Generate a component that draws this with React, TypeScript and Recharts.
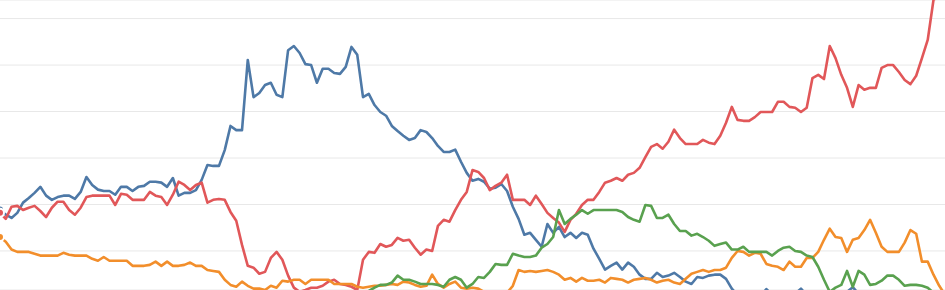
import React from "react";
import { CartesianGrid, Line, LineChart, XAxis, YAxis } from "recharts";

// values, one per period
const blue = [
  18.9, 17.8, 17.1, 18.2, 20.4, 21.4, 22.5, 23.8, 21.9, 21.0,
  21.6, 21.9, 21.9, 21.2, 22.7, 25.9, 24.2, 23.2, 22.9, 22.9,
  22.1, 23.8, 23.8, 22.9, 23.8, 24.0, 24.9, 24.9, 24.7, 23.8,
  25.7, 21.9, 22.5, 22.5, 23.1, 25.3, 28.5, 28.3, 28.3, 31.7,
  36.9, 36.0, 36.0, 51.1, 43.1, 44.0, 45.7, 46.2, 43.6, 43.1,
  53.2, 54.1, 52.6, 50.2, 50.0, 46.2, 49.2, 49.2, 48.3, 48.1,
  49.6, 53.9, 52.2, 43.1, 43.8, 41.4, 39.9, 39.1, 36.9, 35.8,
  34.8, 33.9, 34.3, 36.0, 35.6, 34.3, 32.6, 31.3, 31.3, 31.8,
  29.2, 26.8, 25.1, 25.5, 24.9, 23.4, 23.6, 24.4, 22.9, 19.5,
  16.9, 13.5, 13.9, 12.4, 10.9, 15.8, 13.9, 15.2, 13.0, 13.9,
  12.8, 13.9, 13.5, 10.5, 8.3, 6.0, 6.8, 7.5, 6.0, 7.5,
  6.6, 4.9, 4.0, 4.0, 5.3, 4.4, 4.7, 5.3, 4.4, 3.4,
  2.9, 4.4, 4.2, 4.7, 4.9, 4.9, 4.0, 1.9, 0.5, 0.2,
  0.0, 0.5, 0.3, 1.8, 0.6, 0.2, 0.4, 0.1, 0.8, 1.9,
  0.5, 0.3, 0.0, 0.2, 0.4, 0.1, 0.6, 1.2, 2.2, 0.8,
  0.3, 0.0, 0.5, 0.2, 0.1, 0.4, 0.0, 0.3, 0.2, 0.1,
  0.5, 0.2, 0.0, 0.3, 0.1,
];

const red = [
  18.2, 16.9, 19.5, 19.7, 18.8, 19.3, 19.7, 18.6, 17.3, 19.3,
  20.6, 20.6, 18.8, 17.8, 19.3, 21.6, 21.9, 21.9, 21.9, 21.9,
  19.9, 22.3, 22.1, 21.0, 21.0, 21.0, 22.7, 21.9, 21.6, 19.9,
  22.1, 24.9, 24.2, 23.1, 24.2, 24.7, 20.4, 21.0, 21.2, 21.0,
  18.4, 16.5, 11.3, 6.8, 6.4, 5.1, 5.5, 8.5, 9.8, 8.1,
  4.7, 2.1, 1.2, 1.6, 2.1, 2.1, 2.5, 3.4, 3.8, 2.9,
  2.7, 2.3, 1.6, 8.1, 9.8, 9.6, 11.5, 10.9, 11.3, 12.8,
  12.2, 12.4, 10.7, 9.2, 10.3, 10.0, 15.4, 16.7, 16.3, 18.8,
  21.0, 22.7, 27.4, 27.0, 25.7, 23.1, 24.0, 24.7, 26.4, 21.0,
  21.0, 21.0, 19.9, 21.9, 20.1, 18.2, 17.1, 16.1, 14.1, 16.7,
  18.0, 19.9, 21.0, 21.0, 22.7, 24.7, 25.1, 25.7, 25.1, 26.4,
  26.8, 27.9, 30.2, 32.4, 33.0, 32.0, 33.5, 36.1, 34.3, 33.0,
  33.0, 33.0, 33.9, 33.3, 33.0, 34.8, 37.6, 41.0, 38.2, 38.0,
  38.0, 38.8, 39.9, 39.9, 39.9, 42.1, 42.1, 41.0, 40.8, 39.9,
  40.8, 47.2, 47.9, 47.0, 54.1, 51.5, 47.9, 45.1, 41.0, 45.7,
  44.7, 45.1, 45.1, 49.4, 50.0, 50.0, 48.5, 46.8, 45.9, 47.7,
  51.5, 55.4, 64.0, 65.0, 65.5,
];

const orange = [
  13.0, 12.0, 10.3, 9.8, 9.8, 9.8, 9.4, 9.0, 9.0, 9.0,
  9.0, 9.6, 9.2, 9.0, 9.0, 9.0, 8.3, 7.9, 8.7, 7.9,
  7.9, 7.9, 7.9, 6.8, 6.8, 6.8, 7.0, 7.7, 6.8, 7.7,
  6.8, 6.8, 7.0, 7.5, 6.8, 6.8, 5.9, 5.7, 5.5, 3.8,
  2.7, 2.3, 3.4, 2.5, 1.9, 1.9, 1.6, 2.5, 2.1, 3.6,
  3.4, 3.8, 3.8, 2.9, 3.8, 3.8, 3.8, 3.8, 2.9, 2.9,
  2.9, 2.9, 2.3, 2.1, 2.3, 2.5, 2.5, 2.7, 2.9, 2.7,
  3.4, 3.2, 2.7, 2.3, 2.5, 4.9, 2.9, 2.1, 2.9, 3.4,
  2.1, 1.9, 2.1, 1.9, 1.2, 0.8, 0.6, 0.8, 1.0, 2.5,
  5.9, 5.5, 5.7, 5.5, 5.7, 5.9, 5.5, 4.9, 3.8, 4.2,
  3.4, 4.2, 3.6, 3.6, 3.8, 3.2, 4.2, 4.0, 3.8, 3.2,
  3.8, 4.0, 4.2, 3.8, 3.2, 3.6, 3.8, 3.2, 2.9, 4.0,
  5.1, 5.5, 5.9, 5.5, 5.9, 5.9, 6.4, 8.5, 10.0, 9.8,
  9.0, 9.6, 9.4, 7.2, 6.8, 6.6, 5.9, 7.7, 6.6, 6.6,
  8.5, 8.5, 9.8, 12.4, 14.8, 13.0, 12.8, 9.8, 12.4, 12.8,
  14.5, 16.7, 13.9, 10.9, 9.8, 9.8, 9.8, 11.8, 14.5, 13.7,
  7.7, 7.7, 4.9, 2.5, 0.6,
];

const green = [
  0.5, 0.6, 0.5, 0.7, 0.6, 0.5, 0.6, 0.7, 0.6, 0.5,
  0.6, 0.5, 0.6, 0.7, 0.6, 0.5, 0.6, 0.5, 0.6, 0.7,
  0.6, 0.5, 0.6, 0.7, 0.6, 0.5, 0.6, 0.5, 0.6, 0.7,
  0.6, 0.5, 0.6, 0.7, 0.6, 0.5, 0.6, 0.5, 0.6, 0.7,
  0.6, 0.5, 0.6, 0.7, 0.6, 0.5, 0.6, 0.5, 0.6, 0.7,
  0.6, 0.5, 0.6, 0.7, 0.6, 0.5, 0.6, 0.5, 0.6, 0.7,
  0.8, 0.9, 1.0, 1.2, 1.4, 2.1, 2.7, 2.7, 3.2, 4.7,
  3.8, 3.8, 3.4, 2.9, 2.9, 2.9, 2.7, 2.3, 3.8, 4.4,
  3.8, 2.1, 2.9, 4.4, 4.2, 5.5, 7.2, 7.0, 7.0, 9.4,
  9.0, 8.7, 8.7, 9.0, 10.7, 11.5, 13.0, 18.8, 15.8, 16.9,
  17.8, 18.8, 18.0, 18.8, 18.8, 18.8, 18.8, 18.8, 18.4, 17.3,
  16.7, 16.3, 19.9, 19.7, 17.1, 17.1, 17.8, 15.8, 14.3, 14.3,
  13.3, 13.7, 13.0, 12.2, 11.1, 11.5, 11.8, 10.3, 10.3, 10.9,
  9.8, 9.8, 9.8, 9.8, 9.0, 10.0, 10.7, 10.9, 10.0, 9.8,
  9.0, 8.7, 6.6, 3.8, 1.2, 2.1, 2.7, 5.7, 2.3, 5.7,
  4.9, 2.7, 2.9, 3.6, 4.7, 4.7, 3.8, 2.5, 2.7, 2.7,
  2.5, 2.1, 1.0, 0.6, 0.4,
];

const gridTicks = [10, 20, 30, 40, 50, 60];

const data = blue.map((b, i) => ({
  period: i,
  blue: b,
  red: red[i],
  orange: orange[i],
  green: green[i],
}));

export default function App() {
  return (
    <div style={{ position: "absolute", left: 0, top: 0, width: 945, height: 290, background: "#fff", overflow: "hidden" }}>
      <LineChart width={945} height={290} data={data} margin={{ top: 0, right: 0, bottom: 0, left: 0 }}>
        <CartesianGrid vertical={false} stroke="#e8e8e8" strokeWidth={1} />
        <XAxis dataKey="period" hide />
        <YAxis hide domain={[1.6, 64]} ticks={gridTicks} allowDataOverflow />
        <Line type="linear" dataKey="blue" stroke="#4e79a7" strokeWidth={2.6} dot={false} isAnimationActive={false} strokeLinejoin="round" />
        <Line type="linear" dataKey="red" stroke="#e15759" strokeWidth={2.6} dot={false} isAnimationActive={false} strokeLinejoin="round" />
        <Line type="linear" dataKey="orange" stroke="#f28e2b" strokeWidth={2.6} dot={false} isAnimationActive={false} strokeLinejoin="round" />
        <Line type="linear" dataKey="green" stroke="#59a14f" strokeWidth={2.6} dot={false} isAnimationActive={false} strokeLinejoin="round" />
      </LineChart>
    </div>
  );
}
